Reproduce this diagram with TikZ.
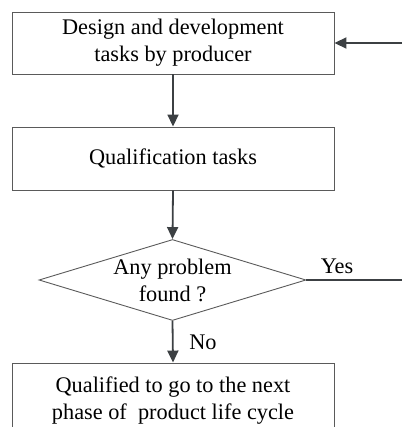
\documentclass[tikz,border=0pt]{standalone}
\usepackage{fontspec}
\setmainfont{Liberation Serif}
\usetikzlibrary{arrows.meta,shapes.geometric}
\definecolor{boxc}{HTML}{5A5A5A}
\definecolor{arrc}{HTML}{3C4043}
\tikzset{
  stepbox/.style={draw=boxc, line width=0.9pt, minimum width=322pt, inner sep=0pt, align=center,
    font=\fontsize{22.3}{27}\selectfont},
  lbl/.style={inner sep=0pt, align=center, font=\fontsize{22.3}{27}\selectfont},
  arr/.style={draw=arrc, line width=1.8pt, -{Triangle[length=12pt,width=11pt]}},
  plain/.style={draw=arrc, line width=1.8pt},
}
\begin{document}
\begin{tikzpicture}[x=1pt,y=-1pt]
\useasboundingbox (0,0) rectangle (402,427);
\clip (0,0) rectangle (402,427);
\node[stepbox, minimum height=62pt] (b1) at (173,43) {Design and development\\tasks by producer};
\node[stepbox, minimum height=63pt] (b2) at (173,158.5) {Qualification tasks};
\node[diamond, draw=boxc, line width=0.9pt, minimum width=267pt, minimum height=81pt, inner sep=0pt] (d) at (172.5,280) {};
\node[lbl] (dt) at (d) {Any problem\\found ?};
\node[stepbox, minimum height=76pt] (b3) at (173,401) {Qualified to go to the next\\phase of\ \ product life cycle};
\coordinate (in) at (402,43);
\coordinate (out) at (402,280);
\draw[arr] (in) -- (b1.east);
\draw[arr] (b1.south) -- (b2.north);
\draw[arr] (b2.south) -- (d.north);
\draw[arr] (d.south) -- (b3.north);
\draw[plain] (d.east) -- (out);
\node[lbl] (yes) at (337,266) {Yes};
\node[lbl] (no) at (203,342) {No};
\end{tikzpicture}
\end{document}
